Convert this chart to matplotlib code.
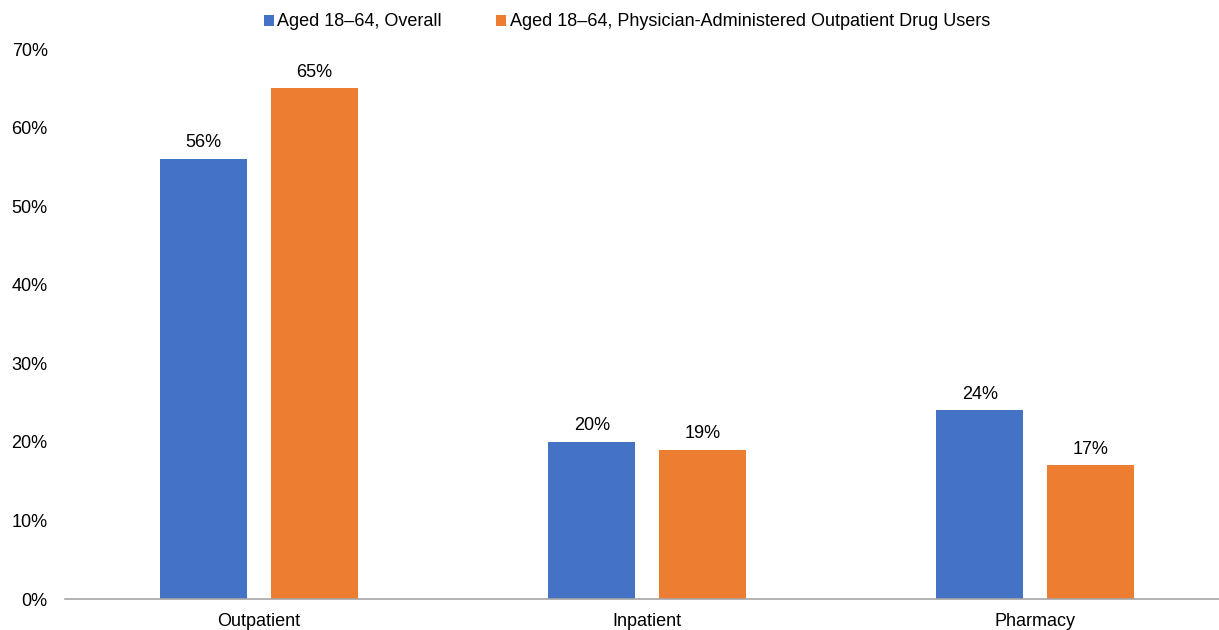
#!/usr/bin/env python3
"""Grouped bar chart: share of spending by setting, two populations."""
import matplotlib.pyplot as plt
import numpy as np

plt.rcParams["font.family"] = ["Liberation Sans", "DejaVu Sans"]

categories = ["Outpatient", "Inpatient", "Pharmacy"]
series_names = [
    "Aged 18\u201364, Overall",
    "Aged 18\u201364, Physician-Administered Outpatient Drug Users",
]
overall = [56, 20, 24]
pado_users = [65, 19, 17]
colors = ["#4472C4", "#ED7D31"]
y_ticks = [0, 10, 20, 30, 40, 50, 60, 70]

W, H = 1219, 630
fig = plt.figure(figsize=(W / 100, H / 100), dpi=100)
ax = fig.add_axes([65 / W, 1 - 599 / H, (1219 - 65) / W, (599 - 49) / H])

x = np.arange(len(categories))
width = 0.224
offset = 0.1424
for vals, dx, col, name in zip([overall, pado_users], [-offset, offset],
                               colors, series_names):
    bars = ax.bar(x + dx, vals, width, color=col, label=name, zorder=2)
    for b, v in zip(bars, vals):
        ax.annotate(f"{v}%", (b.get_x() + b.get_width() / 2, v),
                    xytext=(0, 5.5), textcoords="offset points",
                    ha="center", va="bottom", fontsize=13, color="#000000")

ax.set_xlim(-0.5, 2.474)
ax.set_ylim(0, 70)
ax.set_yticks(y_ticks)
ax.set_yticklabels([f"{t}%" for t in y_ticks], fontsize=13)
ax.set_xticks(x)
ax.set_xticklabels(categories, fontsize=13)
ax.tick_params(axis="both", length=0, colors="#000000")
ax.tick_params(axis="y", pad=12.5)
ax.tick_params(axis="x", pad=10)
for side in ["top", "right", "left"]:
    ax.spines[side].set_visible(False)
ax.spines["bottom"].set_color("#A6A6A6")
ax.spines["bottom"].set_linewidth(1.2)
ax.spines["bottom"].set_zorder(3)

fig.legend(loc="center", bbox_to_anchor=(627 / W, 1 - 22 / H), ncol=2,
           frameon=False, fontsize=13, handlelength=0.55, handleheight=0.55,
           handletextpad=0.2, columnspacing=3.0)

fig.savefig("out.png", dpi=100)
